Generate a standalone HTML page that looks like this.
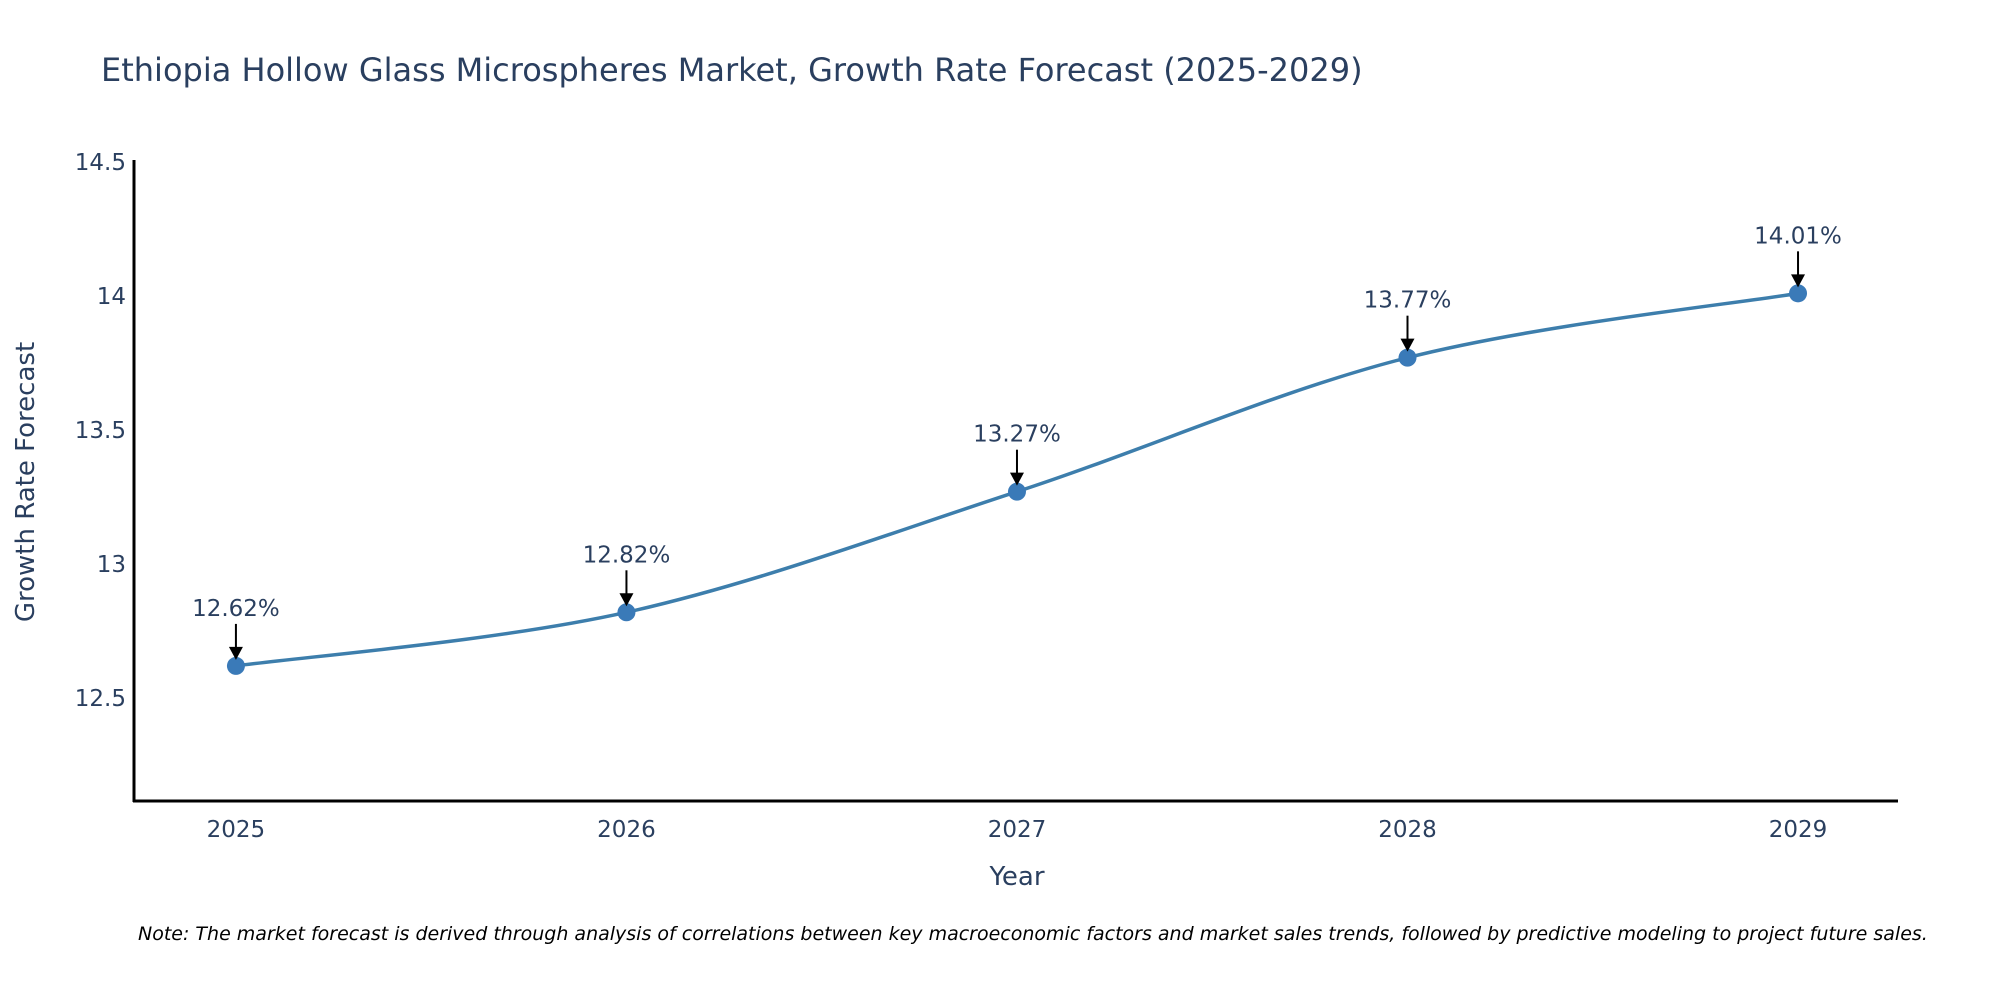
<!DOCTYPE html>
<html><head><meta charset="utf-8"><style>
html,body{margin:0;padding:0;background:#fff;}
svg{display:block;font-family:"DejaVu Sans","Liberation Sans",sans-serif;}
</style></head><body>
<svg id="chart" width="2000" height="1000">
<text x="101" y="81" font-size="32" fill="#2a3f5f">Ethiopia Hollow Glass Microspheres Market, Growth Rate Forecast (2025-2029)</text>
<g id="yticks"></g>
<g id="xticks"></g>
<path id="line" fill="none" stroke="#3d7eac" stroke-width="3.5"/>
<g id="points"></g>
<g id="annots"></g>
<line x1="134" y1="160" x2="134" y2="802" stroke="#000" stroke-width="3"/>
<line x1="133" y1="801" x2="1898" y2="801" stroke="#000" stroke-width="3"/>
<text x="1017" y="885" font-size="26" fill="#2a3f5f" text-anchor="middle">Year</text>
<text transform="translate(34,482) rotate(-90)" font-size="26" fill="#2a3f5f" text-anchor="middle">Growth Rate Forecast</text>
<text x="138" y="940" font-size="19" font-style="italic" fill="#000">Note: The market forecast is derived through analysis of correlations between key macroeconomic factors and market sales trends, followed by predictive modeling to project future sales.</text>
</svg>
<script>
const years=[2025,2026,2027,2028,2029];
const values=[12.62,12.82,13.27,13.77,14.01];
const labels=["12.62%","12.82%","13.27%","13.77%","14.01%"];
const yTicks=[12.5,13,13.5,14,14.5];
const yTickLabels=["12.5","13","13.5","14","14.5"];
const NS="http://www.w3.org/2000/svg";
const x0=134,x1=1898,y0=801,y1=162;
const xmin=2024.739,xmax=2029.256,ymin=12.116,ymax=14.5;
const X=v=>x0+(v-xmin)/(xmax-xmin)*(x1-x0);
const Y=v=>y0-(v-ymin)/(ymax-ymin)*(y0-y1);
function mk(tag,attrs,parent){const e=document.createElementNS(NS,tag);for(const k in attrs)e.setAttribute(k,attrs[k]);parent.appendChild(e);return e;}
const yt=document.getElementById('yticks');
yTicks.forEach((t,i)=>{const e=mk('text',{x:126,y:Y(t)+8,'font-size':23,fill:'#2a3f5f','text-anchor':'end'},yt);e.textContent=yTickLabels[i];

});
const xt=document.getElementById('xticks');
years.forEach(yr=>{const e=mk('text',{x:X(yr),y:837,'font-size':23,fill:'#2a3f5f','text-anchor':'middle'},xt);e.textContent=String(yr);

});
const P=years.map((yr,i)=>[X(yr),Y(values[i])]);
let d=`M${P[0][0]},${P[0][1]}`;const s=1/6;
for(let i=0;i<P.length-1;i++){const p0=P[Math.max(i-1,0)],p1=P[i],p2=P[i+1],p3=P[Math.min(i+2,P.length-1)];
d+=` C${p1[0]+(p2[0]-p0[0])*s},${p1[1]+(p2[1]-p0[1])*s} ${p2[0]-(p3[0]-p1[0])*s},${p2[1]-(p3[1]-p1[1])*s} ${p2[0]},${p2[1]}`;}
document.getElementById('line').setAttribute('d',d);
const pts=document.getElementById('points'),an=document.getElementById('annots');
P.forEach((p,i)=>{const c=mk('circle',{cx:p[0],cy:p[1],r:9,fill:'#3a7ab8'},pts);


const l=mk('line',{x1:p[0],y1:p[1]-42,x2:p[0],y2:p[1]-18,stroke:'#000','stroke-width':2},an);


const h=mk('polygon',{points:`${p[0]-7},${p[1]-19} ${p[0]+7},${p[1]-19} ${p[0]},${p[1]-6}`,fill:'#000'},an);


const t=mk('text',{x:p[0],y:p[1]-50,'font-size':23,fill:'#2a3f5f','text-anchor':'middle'},an);t.textContent=labels[i];

});
</script>
</body></html>
